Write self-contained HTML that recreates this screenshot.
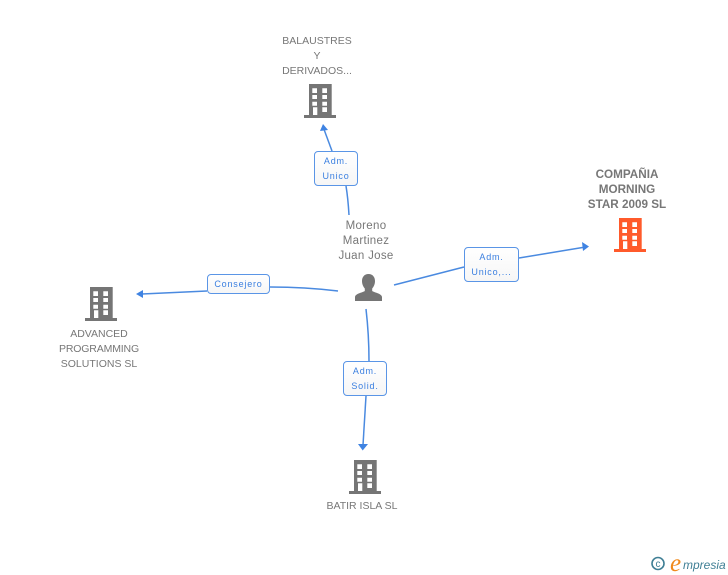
<!DOCTYPE html>
<html><head><meta charset="utf-8">
<style>
html,body{margin:0;padding:0;background:#fff}
#c{position:relative;width:728px;height:575px;overflow:hidden;background:#fff;font-family:"Liberation Sans",sans-serif}
.t{position:absolute;text-align:center;color:#777;font-size:10.5px;line-height:15px;white-space:nowrap;transform:translateX(-50%)}
.b{font-weight:bold;font-size:11.7px;color:#777}
.l{position:absolute;box-sizing:border-box;border:1.5px solid #5a95e6;border-radius:4px;background:linear-gradient(#fff,#f6f6f6);color:#3a7fe0;font-size:9px;letter-spacing:.8px;line-height:15px;text-align:center;white-space:nowrap}
svg{position:absolute;left:0;top:0}
</style></head><body><div id="c">
<svg width="728" height="575" viewBox="0 0 728 575">
<defs>
<g id="bd">
<path fill-rule="evenodd" d="M5 0H27.7V31H32V34H0V31H5ZM8.3 4.3V9H13V4.3ZM18.3 4.3V9H23V4.3ZM8.3 11V15H13V11ZM18.3 11V15H23V11ZM8.3 17.7V21.7H13V17.7ZM18.3 17.7V21.7H23V17.7ZM9 23.3V31H13.3V23.3ZM18.3 23.3V28H23V23.3Z"/>
</g>
</defs>
<g fill="none" stroke="#4a8ae0" stroke-width="1.5">
<path d="M349 215Q348 198 346 186"/>
<path d="M332 151L323.5 128"/>
<path d="M394 285L464 267"/>
<path d="M519 258L584 247.3"/>
<path d="M338 291Q305 287 270 287"/>
<path d="M207 291L142 294"/>
<path d="M366 309Q369 335 369 361"/>
<path d="M366 396L363 445"/>
</g>
<g fill="#3f83e2">
<path d="M323 124L328 130L320 131Z"/>
<path d="M589 246.500L582 242L583 251Z"/>
<path d="M136 294L143 290L143 298Z"/>
<path d="M362.700 450.500L358 444L368 444Z"/>
</g>
<use href="#bd" x="304" y="84" fill="#757575"/>
<use href="#bd" x="614" y="218" fill="#ff5a2b"/>
<use href="#bd" x="85" y="287" fill="#757575"/>
<use href="#bd" x="349" y="460" fill="#757575"/>
<path fill="#757575" d="M368.500 274C364 274 362 277.500 362 281C362 284.500 363.500 287 364.800 288.500V291C362 292.800 355.500 293.500 355 297V301H382V297C381.500 293.500 375 292.800 372.200 291V288.500C373.500 287 375 284.500 375 281C375 277.500 373 274 368.500 274Z"/>
<circle cx="658" cy="563.500" r="6" fill="none" stroke="#3f7f95" stroke-width="1.600"/>
<text x="658" y="567" text-anchor="middle" font-family="Liberation Sans, sans-serif" font-size="10" fill="#3f7f95">c</text>
<text x="670" y="571" font-family="Liberation Serif, serif" font-style="italic" font-size="25" fill="#f08a1d">e</text>
<text x="683" y="569" font-family="Liberation Sans, sans-serif" font-style="italic" font-size="12" fill="#3f7f95">mpresia</text>
</svg>
<div class="t" style="left:317px;top:34px">BALAUSTRES<br>Y<br>DERIVADOS...</div>
<div class="t b" style="left:627px;top:167px">COMPAÑIA<br>MORNING<br>STAR 2009 SL</div>
<div class="t" style="left:99px;top:327px">ADVANCED<br><span style="letter-spacing:-.15px">PROGRAMMING</span><br>SOLUTIONS SL</div>
<div class="t" style="left:362px;top:499px">BATIR ISLA SL</div>
<div class="t" style="left:366px;top:219px;font-size:11.5px;letter-spacing:.3px">Moreno<br>Martinez<br>Juan Jose</div>
<div class="l" style="left:314px;top:151px;width:44px;height:35px;padding-top:2px">Adm.<br>Unico</div>
<div class="l" style="left:464px;top:247px;width:55px;height:35px;padding-top:2px">Adm.<br>Unico,...</div>
<div class="l" style="left:343px;top:361px;width:44px;height:35px;padding-top:2px">Adm.<br>Solid.</div>
<div class="l" style="left:207px;top:274px;width:63px;height:20px;padding-top:2px">Consejero</div>
</div></body></html>
